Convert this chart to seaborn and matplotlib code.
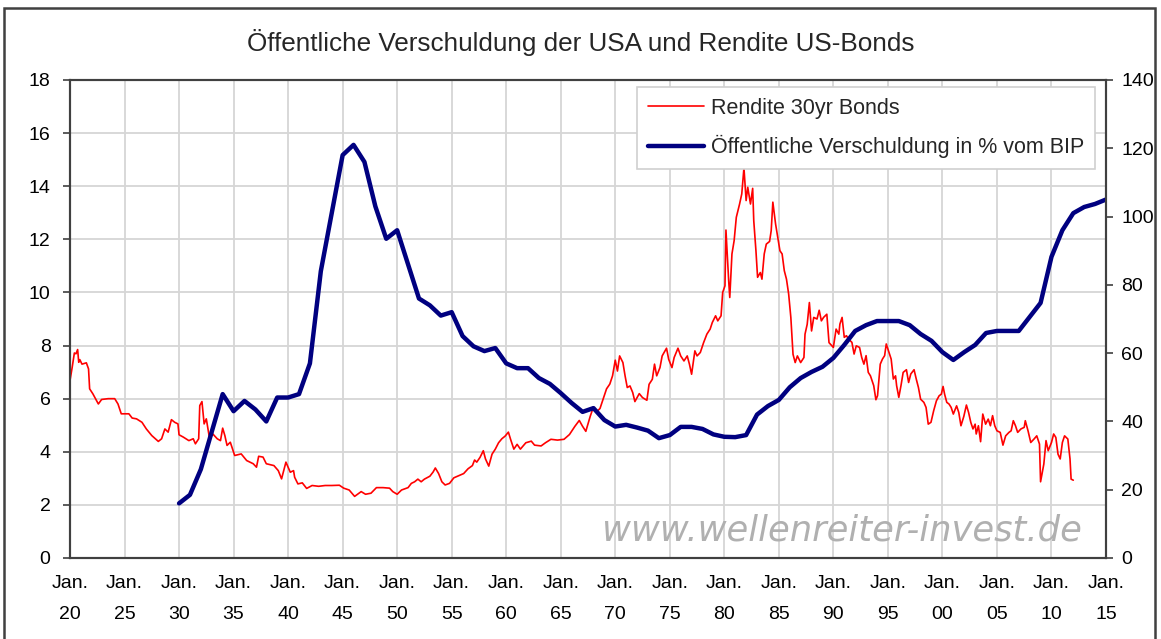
import matplotlib
matplotlib.use("Agg")
import matplotlib.pyplot as plt
import numpy as np
import pandas as pd
import seaborn as sns

# Rendite 30yr Bonds (left axis, %)
yield_years = [
    1920.0, 1920.2, 1920.4, 1920.55, 1920.7, 1920.8, 1920.9, 1921.1, 1921.5, 1921.7,
    1921.8, 1922.1, 1922.6, 1922.9, 1923.5, 1924.1, 1924.4, 1924.7, 1925.4, 1925.7,
    1926.1, 1926.6, 1927.0, 1927.5, 1928.1, 1928.4, 1928.7, 1929.0, 1929.3, 1929.6,
    1929.9, 1930.0, 1930.4, 1930.9, 1931.3, 1931.5, 1931.8, 1931.9, 1932.1, 1932.3,
    1932.5, 1932.8, 1933.1, 1933.5, 1933.8, 1934.0, 1934.2, 1934.4, 1934.7, 1935.1,
    1935.7, 1936.2, 1936.8, 1937.1, 1937.3, 1937.7, 1938.0, 1938.7, 1939.1, 1939.4,
    1939.8, 1940.2, 1940.5, 1940.6, 1940.9, 1941.3, 1941.7, 1942.2, 1942.8, 1943.4,
    1944.0, 1944.7, 1945.1, 1945.6, 1946.1, 1946.7, 1947.1, 1947.6, 1948.1, 1948.7,
    1949.3, 1949.6, 1950.0, 1950.4, 1951.0, 1951.3, 1951.6, 1951.9, 1952.2, 1952.5,
    1953.0, 1953.3, 1953.5, 1953.8, 1954.1, 1954.4, 1954.8, 1955.2, 1955.6, 1956.1,
    1956.5, 1956.9, 1957.1, 1957.3, 1957.6, 1957.9, 1958.1, 1958.4, 1958.7, 1959.0,
    1959.3, 1959.6, 1959.9, 1960.2, 1960.4, 1960.7, 1961.0, 1961.3, 1961.8, 1962.3,
    1962.6, 1963.2, 1963.6, 1964.1, 1964.7, 1965.3, 1965.8, 1966.3, 1966.7, 1967.0,
    1967.3, 1967.7, 1968.0, 1968.3, 1968.6, 1968.9, 1969.2, 1969.5, 1969.75, 1970.0,
    1970.2, 1970.4, 1970.7, 1970.9, 1971.1, 1971.35, 1971.6, 1971.8, 1972.2, 1972.5,
    1972.9, 1973.1, 1973.4, 1973.6, 1973.8, 1974.1, 1974.3, 1974.7, 1974.9, 1975.2,
    1975.4, 1975.75, 1976.0, 1976.3, 1976.6, 1976.8, 1977.0, 1977.3, 1977.5, 1977.8,
    1978.1, 1978.4, 1978.7, 1978.9, 1979.2, 1979.4, 1979.7, 1979.85, 1980.06, 1980.15,
    1980.4, 1980.5, 1980.7, 1980.9, 1981.1, 1981.4, 1981.6, 1981.8, 1982.0, 1982.15,
    1982.4, 1982.6, 1982.7, 1982.9, 1983.05, 1983.3, 1983.45, 1983.66, 1983.85, 1984.15,
    1984.3, 1984.45, 1984.7, 1984.9, 1985.1, 1985.3, 1985.5, 1985.7, 1985.9, 1986.1,
    1986.3, 1986.5, 1986.7, 1987.0, 1987.3, 1987.4, 1987.6, 1987.8, 1988.0, 1988.2,
    1988.5, 1988.7, 1988.9, 1989.1, 1989.4, 1989.6, 1990.0, 1990.25, 1990.5, 1990.6,
    1990.8, 1991.0, 1991.2, 1991.4, 1991.7, 1991.9, 1992.1, 1992.4, 1992.6, 1992.8,
    1993.0, 1993.2, 1993.4, 1993.7, 1993.9, 1994.05, 1994.3, 1994.5, 1994.7, 1994.85,
    1995.1, 1995.3, 1995.5, 1995.7, 1995.8, 1996.0, 1996.2, 1996.4, 1996.7, 1996.9,
    1997.1, 1997.4, 1997.6, 1997.8, 1998.0, 1998.3, 1998.5, 1998.7, 1998.95, 1999.2,
    1999.45, 1999.7, 1999.9, 2000.06, 2000.2, 2000.4, 2000.6, 2000.8, 2001.0, 2001.3,
    2001.5, 2001.7, 2001.96, 2002.2, 2002.4, 2002.6, 2002.8, 2003.0, 2003.1, 2003.3,
    2003.5, 2003.7, 2003.96, 2004.2, 2004.4, 2004.6, 2004.8, 2005.0, 2005.3, 2005.55,
    2005.8, 2006.1, 2006.3, 2006.5, 2006.7, 2006.9, 2007.2, 2007.5, 2007.6, 2007.85,
    2008.1, 2008.4, 2008.65, 2008.9, 2009.0, 2009.3, 2009.5, 2009.7, 2010.0, 2010.2,
    2010.4, 2010.6, 2010.8, 2011.0, 2011.2, 2011.5, 2011.7, 2011.8, 2012.0,
]
yield_values = [
    6.68, 7.18, 7.72, 7.69, 7.85, 7.37, 7.47, 7.30, 7.35, 7.12,
    6.37, 6.18, 5.80, 5.97, 6.00, 6.00, 5.80, 5.43, 5.43, 5.27,
    5.24, 5.11, 4.86, 4.61, 4.39, 4.49, 4.86, 4.74, 5.21, 5.11,
    5.05, 4.64, 4.55, 4.42, 4.49, 4.30, 4.49, 5.74, 5.89, 5.05,
    5.24, 4.49, 4.67, 4.49, 4.42, 4.89, 4.61, 4.24, 4.36, 3.86,
    3.92, 3.67, 3.55, 3.42, 3.83, 3.80, 3.55, 3.48, 3.29, 2.98,
    3.61, 3.23, 3.29, 3.04, 2.79, 2.83, 2.62, 2.73, 2.70, 2.73,
    2.73, 2.74, 2.63, 2.56, 2.32, 2.50, 2.40, 2.44, 2.65, 2.65,
    2.63, 2.50, 2.40, 2.56, 2.65, 2.81, 2.87, 2.97, 2.87, 2.97,
    3.08, 3.24, 3.39, 3.18, 2.87, 2.75, 2.81, 3.02, 3.09, 3.18,
    3.36, 3.48, 3.69, 3.61, 3.79, 4.04, 3.73, 3.46, 3.91, 4.10,
    4.34, 4.49, 4.59, 4.74, 4.47, 4.10, 4.28, 4.10, 4.34, 4.40,
    4.25, 4.22, 4.34, 4.47, 4.44, 4.47, 4.65, 4.96, 5.18, 4.96,
    4.77, 5.33, 5.69, 5.51, 5.63, 6.00, 6.37, 6.55, 6.86, 7.45,
    7.04, 7.61, 7.36, 6.86, 6.42, 6.48, 6.23, 5.89, 6.19, 6.04,
    5.94, 6.54, 6.73, 7.30, 6.86, 7.17, 7.61, 7.90, 7.48, 7.17,
    7.55, 7.90, 7.61, 7.42, 7.61, 7.30, 6.92, 7.80, 7.61, 7.74,
    8.11, 8.43, 8.62, 8.87, 9.12, 8.93, 9.12, 10.00, 10.25, 12.35,
    10.44, 9.81, 11.45, 11.95, 12.83, 13.33, 13.71, 14.69, 13.46, 13.96,
    13.33, 13.92, 12.70, 11.57, 10.57, 10.75, 10.50, 11.45, 11.82, 11.92,
    12.33, 13.40, 12.58, 12.08, 11.57, 11.45, 10.82, 10.50, 9.94, 9.06,
    7.67, 7.36, 7.61, 7.36, 7.55, 8.43, 8.80, 9.62, 8.55, 9.06,
    9.00, 9.33, 8.93, 9.06, 9.18, 8.11, 7.93, 8.62, 8.43, 8.81,
    9.06, 8.31, 8.37, 8.24, 8.12, 7.68, 7.99, 7.93, 7.55, 7.30,
    7.62, 6.99, 6.86, 6.49, 5.96, 6.11, 7.30, 7.49, 7.62, 8.06,
    7.74, 7.49, 6.74, 6.86, 6.49, 6.05, 6.49, 6.99, 7.09, 6.61,
    6.93, 7.09, 6.74, 6.42, 5.98, 5.86, 5.67, 5.04, 5.11, 5.55,
    5.92, 6.11, 6.17, 6.46, 6.17, 5.86, 5.80, 5.67, 5.42, 5.73,
    5.48, 4.98, 5.33, 5.76, 5.48, 5.11, 4.86, 5.04, 4.67, 4.98,
    4.38, 5.42, 5.04, 5.23, 4.98, 5.36, 4.98, 4.79, 4.73, 4.25,
    4.60, 4.73, 4.79, 5.17, 4.98, 4.73, 4.86, 4.92, 5.17, 4.79,
    4.35, 4.48, 4.60, 4.29, 2.87, 3.54, 4.42, 4.04, 4.35, 4.67,
    4.54, 3.91, 3.73, 4.35, 4.60, 4.48, 3.73, 2.97, 2.93,
]

# Oeffentliche Verschuldung in % vom BIP (right axis), yearly
debt_years = list(range(1930, 2016))
debt_values = [
    16, 18.5, 26, 37, 48, 43, 46, 43.5, 40, 47,
    47, 48, 57, 84, 101, 118, 121, 116, 103, 93.5,
    96, 86, 76, 74, 71, 72, 65, 62, 60.6, 61.5,
    57, 55.6, 55.6, 52.7, 51, 48.3, 45.4, 42.8, 43.9, 40.4,
    38.5, 39, 38.2, 37.3, 35.1, 36, 38.4, 38.4, 37.8, 36.2,
    35.5, 35.4, 36, 42, 44.5, 46.3, 50, 52.7, 54.5, 56,
    58.6, 62.4, 66.5, 68.2, 69.4, 69.4, 69.4, 68.2, 65.6, 63.6,
    60.3, 58, 60.3, 62.4, 65.9, 66.5, 66.5, 66.5, 70.6, 74.7,
    88.2, 96, 101, 102.8, 103.7, 105,
]

tick_years = list(range(1920, 2016, 5))
tick_labels = ["Jan.\n" + str(y)[2:] for y in tick_years]

yields = pd.DataFrame({"year": yield_years, "value": yield_values})
debt = pd.DataFrame({"year": debt_years, "value": debt_values})

sns.set_style("white")
plt.rcParams["font.family"] = ["Liberation Sans", "DejaVu Sans"]

fig = plt.figure(figsize=(11.61, 6.39), dpi=100)
ax = fig.add_axes([70 / 1161, 81 / 639, 1036 / 1161, 478 / 639])
ax2 = ax.twinx()

red = "#ff0000"
navy = "#000080"
frame = "#404040"

sns.lineplot(x="year", y="value", data=yields, ax=ax, color=red, lw=1.2,
             label="Rendite 30yr Bonds", legend=False)
sns.lineplot(x="year", y="value", data=debt, ax=ax2, color=navy, lw=3.2,
             label="Öffentliche Verschuldung in % vom BIP", legend=False)

ax.set_xlim(1920, 2015)
ax.set_ylim(0, 18)
ax2.set_ylim(0, 140)
ax.set_yticks(np.arange(0, 19, 2))
ax2.set_yticks(np.arange(0, 141, 20))
ax.set_xticks(tick_years)
ax.set_xticklabels(tick_labels)
for t in ax.get_xticklabels():
    t.set_linespacing(2.1)

ax.grid(True, color="#d6d6d6", lw=1.3)
ax.set_axisbelow(True)
ax.set(xlabel="", ylabel="")
ax2.set(xlabel="", ylabel="")

for a in (ax, ax2):
    for s in a.spines.values():
        s.set_color(frame)
        s.set_linewidth(1.5)
ax.tick_params(axis="both", direction="out", length=5, width=1.2, color=frame,
               labelsize=14, labelcolor="black")
ax.tick_params(axis="y", pad=9)
ax.tick_params(axis="x", pad=7)
ax2.tick_params(axis="y", direction="out", length=5, width=1.2, color=frame,
                labelsize=14, labelcolor="black", pad=6)

# watermark
ax.text(0.977, 0.036, "www.wellenreiter-invest.de", transform=ax.transAxes,
        ha="right", va="baseline", fontsize=25.5, style="italic",
        family="DejaVu Sans", color="#b0b0b0", zorder=1)

# legend with both series
h1, l1 = ax.get_legend_handles_labels()
h2, l2 = ax2.get_legend_handles_labels()
leg = ax2.legend(h1 + h2, l1 + l2, loc="upper right", bbox_to_anchor=(0.989, 0.985),
                 frameon=True, fancybox=False, edgecolor="#d0d0d0", framealpha=1,
                 fontsize=15.5, handlelength=2.6, handletextpad=0.3, borderpad=0.5,
                 labelspacing=0.75, borderaxespad=0)
leg.get_frame().set_linewidth(1.2)

fig.text(0.5, 0.934, "Öffentliche Verschuldung der USA und Rendite US-Bonds",
         ha="center", va="center", fontsize=18.8)

# outer frame of the picture
fig.add_artist(plt.Rectangle((3.5 / 1161, -0.05), 1151.5 / 1161, 0.9875 + 0.05,
                             transform=fig.transFigure, fill=False, lw=1.8, ec=frame))

fig.savefig("out.png", dpi=100)
